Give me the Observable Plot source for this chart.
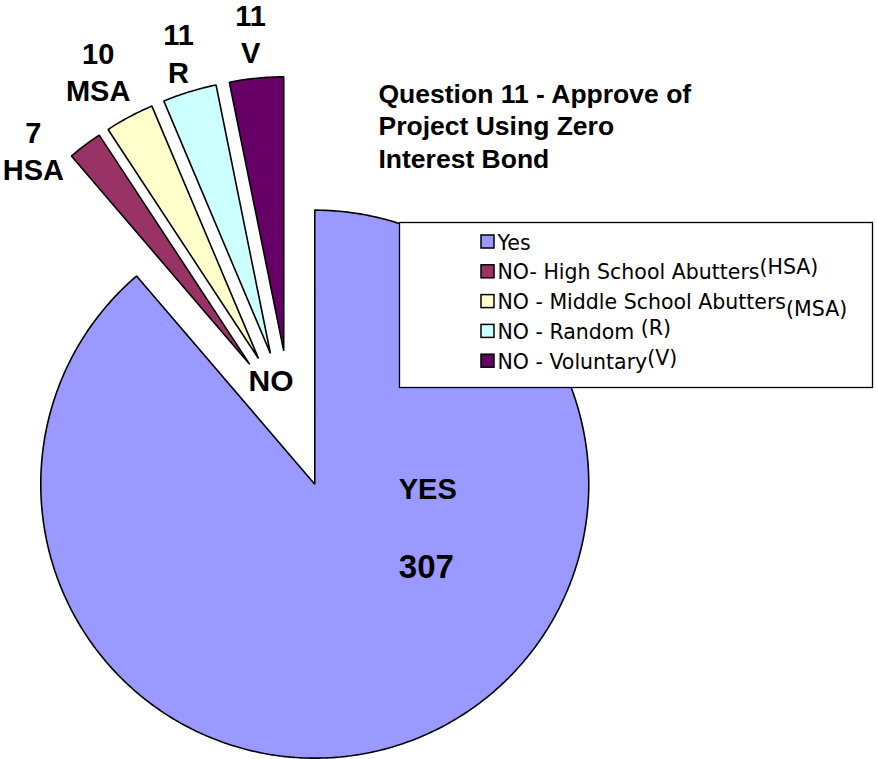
<!DOCTYPE html>
<html><head><meta charset="utf-8">
<script src="https://cdn.jsdelivr.net/npm/d3@7"></script>
<script src="https://cdn.jsdelivr.net/npm/@observablehq/plot@0.6"></script>
<style>
body{margin:0;background:#fff}
#chart{width:877px;height:759px}
</style>
</head><body><div id="chart"></div>
<script>
// ---- data ----
const categories = ["Yes","NO- High School Abutters","NO - Middle School Abutters","NO - Random","NO - Voluntary"];
const shortCodes = ["YES","HSA","MSA","R","V"];
const counts = [307, 7, 10, 11, 11];
const colors = ["#9999FF","#993366","#FFFFCC","#CCFFFF","#660066"];
const legendSuffix = ["", "(HSA)", "(MSA)", " (R)", "(V)"];
const titleLines = ["Question 11 - Approve of","Project Using Zero","Interest Bond"];
const groupLabel = "NO";

// ---- layout ----
const W = 877, H = 759;
const CX = 290, CY = 418, R = 274;
const EXPLODE = [70, 68, 68, 68, 68];
const LABEL_DIST = 316;
const labelNudge = [[0,0],[-26.4,39.5],[-11.5,-7.6],[1.3,1.8],[-1.6,-2.4]];
const suffixShift = [0,-5,7,-4,-4];
const ARIAL = "Liberation Sans, Arial, sans-serif";

const arcs = d3.pie().sort(null).value(d => d)(counts);
const pts = [];
const vertices = [];
arcs.forEach((a, i) => {
  const mid = (a.startAngle + a.endAngle) / 2;
  const vx = CX + EXPLODE[i] * Math.sin(mid), vy = CY - EXPLODE[i] * Math.cos(mid);
  vertices.push({x: vx, y: vy, mid});
  pts.push({key: categories[i], x: vx, y: vy});
  const n = Math.max(8, Math.ceil((a.endAngle - a.startAngle) / 0.01));
  for (let k = 0; k <= n; k++) {
    const t = a.startAngle + (a.endAngle - a.startAngle) * k / n;
    pts.push({key: categories[i], x: vx + R * Math.sin(t), y: vy - R * Math.cos(t)});
  }
});

// top-anchored text: y so that the first baseline lands at `base`
const topY = (base, fs, lh = 1) => base - 0.71 * lh * fs;

// outside labels for NO slices (value over code)
const LFS = 29, LLH = 1.3;
const sliceLabels = arcs.slice(1).map((a, j) => {
  const i = j + 1, v = vertices[i];
  const cx = v.x + LABEL_DIST * Math.sin(v.mid) + labelNudge[i][0];
  const cy = v.y - LABEL_DIST * Math.cos(v.mid) + labelNudge[i][1];
  const base = cy - (LLH - 0.716) * LFS / 2;
  return {x: cx, y: topY(base, LFS, LLH), text: counts[i] + "\n" + shortCodes[i]};
});

// Yes label inside
const yv = vertices[0];
const yesLabels = [
  {x: yv.x + 84, base: yv.y + 15, fs: 29, text: shortCodes[0]},
  {x: yv.x + 84, base: yv.y + 94, fs: 33, text: String(counts[0])}
];

// legend
const LX = 481, LFONT = 20.5;
const legendRows = categories.map((c, i) => ({key: c, label: c, base: 249 + i * 29.8}));
const TFS = 26.5, TLH = 33 / 26.5;

const plot = Plot.plot({
  width: W, height: H, margin: 0,
  x: {domain: [0, W], range: [0, W], axis: null},
  y: {domain: [0, H], range: [0, H], axis: null},
  color: {domain: categories, range: colors},
  style: {background: "white", overflow: "visible"},
  marks: [
    Plot.line(pts, {x: "x", y: "y", z: "key", fill: "key", stroke: "black", strokeWidth: 1.6, curve: "linear-closed", strokeLinejoin: "miter"}),
    Plot.text(sliceLabels, {x: "x", y: "y", text: "text", textAnchor: "middle", lineAnchor: "top", lineHeight: LLH, fontSize: LFS, fontWeight: "bold", fontFamily: ARIAL}),
    Plot.text([groupLabel], {x: CX - 19.5, y: topY(CY - 27.5, 30), text: d => d, textAnchor: "middle", lineAnchor: "top", fontSize: 30, fontWeight: "bold", fontFamily: ARIAL}),
    Plot.text(yesLabels, {x: "x", y: d => topY(d.base, d.fs), text: "text", fontSize: d => d.fs, textAnchor: "start", lineAnchor: "top", fontWeight: "bold", fontFamily: ARIAL}),
    Plot.text([titleLines.join("\n")], {x: 378, y: topY(102, TFS, TLH), text: d => d, textAnchor: "start", lineAnchor: "top", lineHeight: TLH, fontSize: TFS, fontWeight: "bold", fontFamily: ARIAL}),
    Plot.rect([0], {x1: 399.5, x2: 872.5, y1: 222.5, y2: 387.5, fill: "white", stroke: "black", strokeWidth: 1.3}),
    Plot.rect(legendRows, {x1: () => LX, x2: () => LX + 13, y1: d => d.base - 14, y2: d => d.base - 1, fill: "key", stroke: "black", strokeWidth: 1.5}),
    Plot.text(legendRows, {x: () => LX + 16, y: d => topY(d.base, LFONT), text: "label", textAnchor: "start", lineAnchor: "top", fontSize: LFONT, fontFamily: "DejaVu Sans, Verdana, sans-serif"})
  ]
});

d3.select(plot).selectAll("text").each(function() {
  const j = categories.indexOf(this.textContent);
  if (j > 0 && legendSuffix[j]) {
    d3.select(this).append("tspan").attr("dy", suffixShift[j]).text(legendSuffix[j]);
  }
});

document.getElementById("chart").append(plot);
</script>
</body></html>
